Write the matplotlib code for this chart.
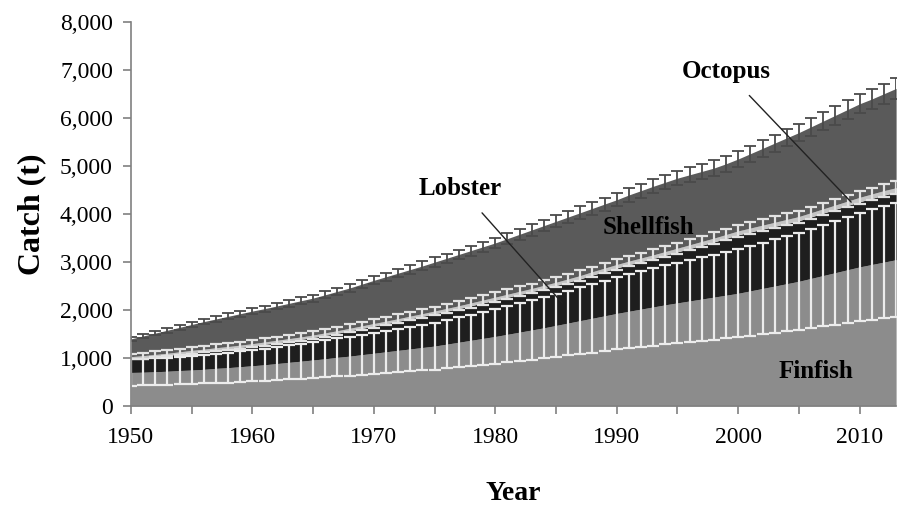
import matplotlib
matplotlib.use("Agg")
import matplotlib.pyplot as plt
from matplotlib.ticker import FuncFormatter, MultipleLocator
import numpy as np

years = list(range(1950, 2014))

# cumulative tops of each stacked layer (t)
finfish_top = [700, 705, 715, 725, 740, 750, 765, 785, 800, 820,
               840, 860, 885, 910, 935, 960, 985, 1015, 1040, 1070,
               1100, 1130, 1160, 1190, 1220, 1250, 1290, 1330, 1370, 1410,
               1450, 1495, 1540, 1585, 1630, 1680, 1730, 1780, 1830, 1880,
               1930, 1975, 2020, 2065, 2110, 2150, 2190, 2230, 2270, 2310,
               2350, 2400, 2450, 2500, 2550, 2600, 2660, 2720, 2780, 2840,
               2900, 2950, 3000, 3050]
lobster_top = [985, 1005, 1030, 1055, 1085, 1115, 1140, 1168, 1193, 1222,
               1252, 1286, 1320, 1355, 1390, 1430, 1474, 1518, 1568, 1617,
               1667, 1716, 1765, 1820, 1869, 1923, 1977, 2031, 2090, 2149,
               2208, 2267, 2326, 2385, 2449, 2513, 2582, 2651, 2730, 2804,
               2878, 2947, 3011, 3075, 3144, 3213, 3282, 3351, 3420, 3494,
               3568, 3627, 3686, 3745, 3804, 3863, 3942, 4021, 4100, 4179,
               4258, 4327, 4396, 4455]
octopus_top = [1030, 1050, 1075, 1100, 1130, 1160, 1185, 1215, 1240, 1270,
               1300, 1335, 1370, 1405, 1440, 1480, 1525, 1570, 1620, 1670,
               1720, 1770, 1820, 1875, 1925, 1980, 2035, 2090, 2150, 2210,
               2270, 2330, 2390, 2450, 2515, 2580, 2650, 2720, 2800, 2875,
               2950, 3020, 3085, 3150, 3220, 3290, 3360, 3430, 3500, 3575,
               3650, 3710, 3770, 3830, 3890, 3950, 4030, 4110, 4190, 4270,
               4350, 4420, 4490, 4550]
shellfish_top = [1400, 1460, 1520, 1580, 1640, 1700, 1760, 1815, 1870, 1925,
                 1980, 2030, 2085, 2140, 2195, 2250, 2320, 2390, 2460, 2540,
                 2620, 2695, 2770, 2845, 2920, 3000, 3080, 3160, 3240, 3320,
                 3400, 3490, 3580, 3670, 3760, 3850, 3940, 4030, 4120, 4210,
                 4300, 4400, 4490, 4580, 4665, 4750, 4820, 4890, 4960, 5050,
                 5150, 5260, 5370, 5480, 5590, 5700, 5820, 5940, 6060, 6180,
                 6300, 6400, 6510, 6620]

# error bar half-widths (t)
finfish_err = [275, 275, 280, 285, 290, 290, 295, 305, 310, 320,
               325, 335, 345, 355, 365, 375, 385, 395, 405, 415,
               430, 440, 450, 465, 475, 490, 500, 520, 535, 550,
               565, 585, 600, 620, 635, 655, 675, 695, 715, 735,
               750, 770, 790, 805, 825, 840, 855, 870, 885, 900,
               915, 935, 955, 975, 995, 1015, 1035, 1060, 1085, 1110,
               1130, 1150, 1170, 1190]
octopus_err = [60, 60, 62, 63, 65, 66, 68, 69, 70, 72,
               73, 75, 76, 78, 79, 80, 82, 83, 85, 86,
               87, 88, 90, 91, 92, 93, 95, 96, 97, 98,
               100, 101, 102, 103, 104, 105, 106, 107, 108, 109,
               110, 111, 112, 113, 114, 115, 116, 117, 118, 119,
               120, 121, 122, 123, 124, 125, 126, 127, 128, 129,
               130, 132, 134, 136]
shellfish_err = [45, 47, 49, 51, 53, 55, 57, 58, 60, 62,
                 63, 65, 67, 68, 70, 72, 74, 76, 79, 81,
                 84, 86, 89, 91, 93, 96, 99, 101, 104, 106,
                 109, 112, 115, 117, 120, 123, 126, 129, 132, 135,
                 138, 141, 144, 147, 149, 152, 154, 156, 159, 162,
                 165, 168, 172, 175, 179, 182, 186, 190, 194, 198,
                 202, 205, 208, 212]

x = np.array(years)
f = np.array(finfish_top)
lb = np.array(lobster_top)
oc = np.array(octopus_top)
sh = np.array(shellfish_top)

plt.rcParams['font.family'] = ['Liberation Serif', 'DejaVu Serif']

fig = plt.figure(figsize=(8.97, 5.05), dpi=100)
ax = fig.add_axes([0.146, 0.196, 0.853, 0.760])

ax.fill_between(x, 0, f, color='#8c8c8c', lw=0, zorder=1)
ax.fill_between(x, f, lb, color='#1e1e1e', lw=0, zorder=1)
ax.fill_between(x, lb, oc, color='#c4c4c4', lw=0, zorder=1)
ax.fill_between(x, oc, sh, color='#5a5a5a', lw=0, zorder=1)

ax.errorbar(x, f, yerr=finfish_err, fmt='none', ecolor='#ececec',
            elinewidth=1.6, capsize=4, capthick=1.6, zorder=3)
ax.errorbar(x, oc, yerr=octopus_err, fmt='none', ecolor='#e2e2e2',
            elinewidth=1.6, capsize=4, capthick=1.6, zorder=4)
ax.errorbar(x, sh, yerr=shellfish_err, fmt='none', ecolor='#4a4a4a',
            elinewidth=1.3, capsize=4, capthick=1.3, zorder=4)

ax.set_xlim(1950, 2013)
ax.set_ylim(0, 8000)
ax.xaxis.set_major_locator(MultipleLocator(10))
ax.xaxis.set_minor_locator(MultipleLocator(5))
ax.yaxis.set_major_locator(MultipleLocator(1000))
ax.yaxis.set_major_formatter(FuncFormatter(lambda v, p: f"{int(v):,}"))

for s in ['top', 'right']:
    ax.spines[s].set_visible(False)
for s in ['left', 'bottom']:
    ax.spines[s].set_color('#808080')
    ax.spines[s].set_linewidth(1.2)
    ax.spines[s].set_zorder(5)

ax.tick_params(axis='both', which='both', direction='out', color='#808080',
               width=1.2, labelsize=17)
ax.tick_params(axis='both', which='major', length=6)
ax.tick_params(axis='x', which='minor', length=6)
ax.tick_params(axis='x', pad=9)
ax.tick_params(axis='y', pad=7)

ax.set_xlabel('Year', fontsize=20, fontweight='bold', labelpad=24)
ax.set_ylabel('Catch (t)', fontsize=23, fontweight='bold', labelpad=10)

ax.text(2006.4, 710, 'Finfish', fontsize=18, fontweight='bold',
        ha='center', va='center', zorder=6)
ax.text(1992.6, 3730, 'Shellfish', fontsize=18, fontweight='bold',
        ha='center', va='center', zorder=6)
ax.annotate('Lobster', xy=(1985.5, 2150), xytext=(1977.1, 4540),
            fontsize=18, fontweight='bold', ha='center', va='center',
            arrowprops=dict(arrowstyle='-', color='#222222', lw=1,
                            shrinkA=10, shrinkB=0), zorder=6)
ax.annotate('Octopus', xy=(2009.3, 4250), xytext=(1999.0, 6980),
            fontsize=18, fontweight='bold', ha='center', va='center',
            arrowprops=dict(arrowstyle='-', color='#222222', lw=1,
                            shrinkA=10, shrinkB=0), zorder=6)

fig.savefig('out.png', dpi=100)
